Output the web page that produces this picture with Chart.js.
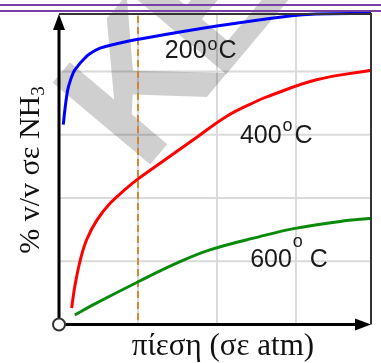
<!DOCTYPE html>
<html>
<head>
<meta charset="utf-8">
<script src="https://cdn.jsdelivr.net/npm/chart.js@4.4.1/dist/chart.umd.min.js"></script>
<style>
  html, body { margin: 0; padding: 0; background: #fff; }
  #wrap { width: 381px; height: 363px; }
</style>
</head>
<body>
<div id="wrap"><canvas id="chart" width="381" height="363"></canvas></div>
<script>
// pressure (arbitrary units, grid every 1) and % v/v NH3
const pressure200 = [0.054, 0.075, 0.097, 0.12, 0.18, 0.24, 0.31, 0.39, 0.52, 0.73, 1.00, 2.00, 2.92, 3.26, 3.95];
const nh3_200     = [3.16, 3.40, 3.61, 3.76, 3.98, 4.09, 4.19, 4.28, 4.37, 4.44, 4.51, 4.72, 4.88, 4.91, 4.92];

const pressure400 = [0.16, 0.20, 0.27, 0.35, 0.48, 0.65, 0.86, 1.01, 1.28, 1.70, 2.12, 2.50, 2.63, 3.26, 3.95];
const nh3_400     = [0.26, 0.60, 1.02, 1.34, 1.65, 1.92, 2.16, 2.31, 2.55, 2.92, 3.29, 3.53, 3.60, 3.87, 4.02];

const pressure600 = [0.20, 0.43, 1.01, 1.49, 1.91, 2.54, 2.99, 3.56, 3.96];
const nh3_600     = [0.15, 0.31, 0.68, 0.97, 1.18, 1.39, 1.52, 1.63, 1.68];

const xGrid = [1, 2, 3];
const yGrid = [1, 2, 3, 4];
const markPressure = 1;

const xTitle = 'πίεση (σε atm)';
const yTitle = '% v/v σε NH';
const yTitleSub = '3';

const toPoints = (xs, ys) => xs.map((x, i) => ({ x: x, y: ys[i] }));

function tempLabel(ctx, digits, x, y, rise, gap) {
    ctx.font = '25px "Liberation Sans", Arial, sans-serif';
    ctx.fillText(digits, x, y);
    let w = ctx.measureText(digits).width;
    ctx.font = '18px "Liberation Sans", Arial, sans-serif';
    ctx.fillText('o', x + w + 1, y - rise);
    let w2 = ctx.measureText('o').width;
    ctx.font = '25px "Liberation Sans", Arial, sans-serif';
    ctx.fillText('C', x + w + 1 + w2 + gap, y);
}

const framePlugin = {
    id: 'frame',
    beforeDatasetsDraw(chart) {
        const ctx = chart.ctx;
        const xs = chart.scales.x, ys = chart.scales.y;
        const a = chart.chartArea;
        ctx.save();
        // grid
        ctx.strokeStyle = '#dadada';
        ctx.lineWidth = 2;
        xGrid.forEach(v => {
            const px = xs.getPixelForValue(v);
            ctx.beginPath(); ctx.moveTo(px, a.top); ctx.lineTo(px, a.bottom); ctx.stroke();
        });
        yGrid.forEach(v => {
            const py = ys.getPixelForValue(v);
            ctx.beginPath(); ctx.moveTo(a.left, py); ctx.lineTo(a.right, py); ctx.stroke();
        });
        // watermark
        ctx.fillStyle = 'rgba(0,0,0,0.19)';
        ctx.font = 'bold 185px "Liberation Sans", Arial, sans-serif';
        ctx.translate(142.3, 174.1);
        ctx.rotate(-50 * Math.PI / 180);
        ctx.fillText('K', 0, 0);
        ctx.fillText('E', 118, 0);
        ctx.restore();

        // dashed marker
        ctx.save();
        ctx.strokeStyle = '#d4801e';
        ctx.lineWidth = 1.8;
        ctx.setLineDash([7, 4]);
        const mx = xs.getPixelForValue(markPressure);
        ctx.beginPath(); ctx.moveTo(mx, a.top + 2); ctx.lineTo(mx, a.bottom); ctx.stroke();
        ctx.restore();
    },
    afterDatasetsDraw(chart) {
        const ctx = chart.ctx;
        const xs = chart.scales.x, ys = chart.scales.y;
        const a = chart.chartArea;
        ctx.save();
        // top and right border
        ctx.strokeStyle = '#333';
        ctx.lineWidth = 2;
        ctx.beginPath(); ctx.moveTo(a.left, a.top); ctx.lineTo(a.right, a.top); ctx.lineTo(a.right, a.bottom); ctx.stroke();
        // axes
        ctx.strokeStyle = '#000';
        ctx.lineWidth = 3;
        ctx.beginPath(); ctx.moveTo(a.left, a.bottom); ctx.lineTo(a.left, a.top + 10); ctx.stroke();
        ctx.beginPath(); ctx.moveTo(a.left, a.bottom); ctx.lineTo(a.right - 10, a.bottom); ctx.stroke();
        ctx.fillStyle = '#000';
        ctx.beginPath();
        ctx.moveTo(a.left, a.top); ctx.lineTo(a.left - 6, a.top + 16); ctx.lineTo(a.left + 6, a.top + 16); ctx.closePath(); ctx.fill();
        ctx.beginPath();
        ctx.moveTo(a.right, a.bottom); ctx.lineTo(a.right - 16, a.bottom - 6); ctx.lineTo(a.right - 16, a.bottom + 6); ctx.closePath(); ctx.fill();
        // origin circle
        ctx.fillStyle = '#fff';
        ctx.strokeStyle = '#333';
        ctx.lineWidth = 2;
        ctx.beginPath(); ctx.arc(a.left, a.bottom, 6, 0, Math.PI * 2); ctx.fill(); ctx.stroke();

        // purple rules at the very top
        ctx.strokeStyle = '#7a3ea6';
        ctx.lineWidth = 2;
        ctx.beginPath(); ctx.moveTo(0, 5); ctx.lineTo(381, 5); ctx.stroke();
        ctx.beginPath(); ctx.moveTo(0, 11); ctx.lineTo(381, 11); ctx.stroke();

        // temperature labels
        ctx.fillStyle = '#1a1a1a';
        ctx.textBaseline = 'alphabetic';
        tempLabel(ctx, '200', xs.getPixelForValue(1.34), ys.getPixelForValue(4.22), 8, 1);
        tempLabel(ctx, '400', xs.getPixelForValue(2.29), ys.getPixelForValue(2.87), 12, 2);
        tempLabel(ctx, '600', xs.getPixelForValue(2.42), ys.getPixelForValue(0.91), 20, 7);

        // axis titles
        ctx.fillStyle = '#111';
        ctx.font = '31px "Liberation Serif", "Times New Roman", serif';
        ctx.textAlign = 'center';
        ctx.fillText(xTitle, 223, 355);

        ctx.translate(39, 170);
        ctx.rotate(-Math.PI / 2);
        ctx.textAlign = 'left';
        ctx.font = '30px "Liberation Serif", "Times New Roman", serif';
        const wMain = ctx.measureText(yTitle).width;
        ctx.font = '19px "Liberation Serif", "Times New Roman", serif';
        const wSub = ctx.measureText(yTitleSub).width;
        const start = -(wMain + wSub) / 2;
        ctx.font = '30px "Liberation Serif", "Times New Roman", serif';
        ctx.fillText(yTitle, start, 0);
        ctx.font = '19px "Liberation Serif", "Times New Roman", serif';
        ctx.fillText(yTitleSub, start + wMain, 5);
        ctx.restore();
    }
};

new Chart(document.getElementById('chart'), {
    type: 'line',
    data: {
        datasets: [
            { data: toPoints(pressure200, nh3_200), borderColor: '#0000ff' },
            { data: toPoints(pressure400, nh3_400), borderColor: '#ff0000' },
            { data: toPoints(pressure600, nh3_600), borderColor: '#0a8a0a' }
        ]
    },
    options: {
        responsive: false,
        animation: false,
        layout: { padding: { left: 59, right: 10, top: 14, bottom: 38.5 } },
        datasets: {
            line: {
                borderWidth: 3,
                pointRadius: 0,
                tension: 0.4,
                clip: false
            }
        },
        plugins: { legend: { display: false }, tooltip: { enabled: false } },
        scales: {
            x: { type: 'linear', min: 0, max: 3.95, display: false },
            y: { type: 'linear', min: 0, max: 4.91, display: false }
        }
    },
    plugins: [framePlugin]
});
</script>
</body>
</html>
